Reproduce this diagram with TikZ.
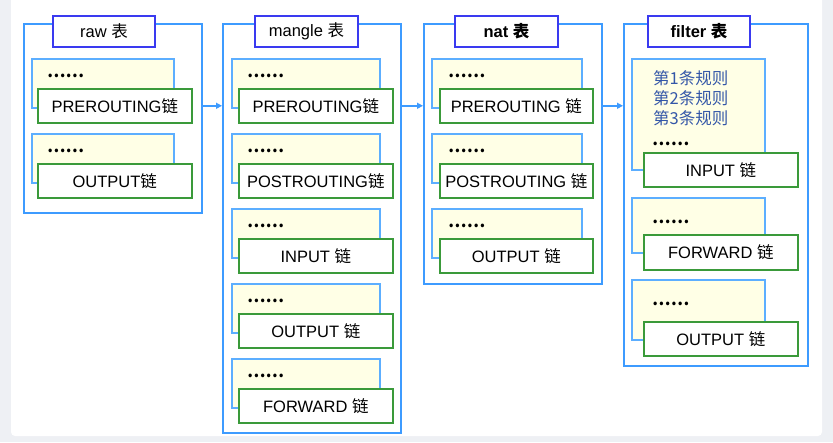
\documentclass[tikz,border=0pt]{standalone}
\usepackage{fontspec}
\setmainfont{Liberation Sans}
\newfontfamily\cjk{Noto Sans CJK SC}
\usetikzlibrary{arrows.meta}

\definecolor{tblblue}{HTML}{3D9BFF}
\definecolor{titleblue}{HTML}{3A3AF0}
\definecolor{ruleblue}{HTML}{5CAEFF}
\definecolor{ruleyellow}{HTML}{FFFFE6}
\definecolor{chaingreen}{HTML}{3A9A3A}
\definecolor{ruletext}{HTML}{3457A8}
\definecolor{pagegray}{HTML}{EEF0F4}

\newcommand{\zh}[1]{{\cjk #1}}

\begin{document}
\begin{tikzpicture}[
    x=1pt, y=-1pt,
    font=\fontsize{16.5}{20}\selectfont,
    >={Triangle[length=6pt,width=6pt]},
    tblbox/.style={
        draw=tblblue,
        line width=2pt,
        anchor=north west,
        inner sep=0pt
    },
    tbltitle/.style={
        draw=titleblue,
        fill=white,
        line width=2pt,
        anchor=north west,
        inner sep=0pt,
        minimum width=102pt,
        minimum height=31pt
    },
    rulebox/.style={
        draw=ruleblue,
        fill=ruleyellow,
        line width=1.7pt,
        anchor=north west,
        inner sep=0pt
    },
    chainbox/.style={
        draw=chaingreen,
        fill=white,
        line width=1.6pt,
        anchor=north west,
        inner sep=0pt,
        minimum height=34pt
    },
    ruledots/.style={font=\cjk\bfseries\fontsize{16.5}{20}\selectfont, anchor=west, inner sep=0pt},
    flow/.style={->, draw=tblblue, line width=1.4pt}
]

    % page
    \useasboundingbox (0,0) rectangle (833,442);
    \fill[pagegray] (0,0) rectangle (833,442);
    \fill[white, rounded corners=4pt] (11,-6) rectangle (822,436);

    % raw 表
    \node[tblbox, minimum width=178pt, minimum height=189pt] (raw) at (23,23) {};
    \node[tbltitle] (rawtitle) at (52,15) {raw \zh{表}};
    \foreach \i/\lbl in {0/PREROUTING, 1/OUTPUT} {
        \node[rulebox, minimum width=142pt, minimum height=49pt] (rawrule\i) at (31,58+75*\i) {};
        \node[ruledots] (rawdots\i) at (47,76+75*\i) {……};
        \node[chainbox, minimum width=154pt] (rawchain\i) at (37,88+75*\i) {\lbl\zh{链}};
    }

    % mangle 表
    \node[tblbox, minimum width=178pt, minimum height=409pt] (mangle) at (222,23) {};
    \node[tbltitle, minimum width=103pt] (mangletitle) at (254,15) {mangle \zh{表}};
    \foreach \i/\lbl in {0/PREROUTING\zh{链}, 1/POSTROUTING\zh{链}, 2/INPUT \zh{链},
                         3/OUTPUT \zh{链}, 4/FORWARD \zh{链}} {
        \node[rulebox, minimum width=148pt, minimum height=49pt] (manglerule\i) at (231,58+75*\i) {};
        \node[ruledots] (mangledots\i) at (247,76+75*\i) {……};
        \node[chainbox, minimum width=154pt] (manglechain\i) at (238,88+75*\i) {\lbl};
    }

    % nat 表
    \node[tblbox, minimum width=178pt, minimum height=260pt] (nat) at (423,23) {};
    \node[tbltitle, minimum width=103pt] (nattitle) at (454,15) {\bfseries nat \zh{表}};
    \foreach \i/\lbl in {0/PREROUTING, 1/POSTROUTING, 2/OUTPUT} {
        \node[rulebox, minimum width=150pt, minimum height=49pt] (natrule\i) at (431,58+75*\i) {};
        \node[ruledots] (natdots\i) at (448,76+75*\i) {……};
        \node[chainbox, minimum width=153pt] (natchain\i) at (439,88+75*\i) {\lbl\ \zh{链}};
    }

    % filter 表
    \node[tblbox, minimum width=184pt, minimum height=342pt] (filter) at (623,23) {};
    \node[tbltitle] (filtertitle) at (647,15) {\bfseries filter \zh{表}};
    \node[rulebox, minimum width=133pt, minimum height=111pt] (filterrule0) at (631,58) {};
    \node[rulebox, minimum width=133pt, minimum height=55pt] (filterrule1) at (631,197) {};
    \node[rulebox, minimum width=133pt, minimum height=60pt] (filterrule2) at (631,279) {};
    \node[anchor=north west, inner sep=0pt, align=left, text=ruletext,
          font=\cjk\fontsize{16.5}{20}\selectfont] (filterrules) at (653,70)
        {第1条规则\\第2条规则\\第3条规则};
    \node[ruledots] (filterdots0) at (652,144) {……};
    \node[ruledots] (filterdots1) at (652,222) {……};
    \node[ruledots] (filterdots2) at (652,304) {……};
    \node[chainbox, minimum width=154pt] (filterchain0) at (643,152) {INPUT \zh{链}};
    \node[chainbox, minimum width=154pt, minimum height=35pt] (filterchain1) at (643,234) {FORWARD \zh{链}};
    \node[chainbox, minimum width=154pt] (filterchain2) at (643,321) {OUTPUT \zh{链}};

    % flow between tables
    \draw[flow] (raw.east |- rawchain0) -- (mangle.west |- rawchain0);
    \draw[flow] (mangle.east |- manglechain0) -- (nat.west |- manglechain0);
    \draw[flow] (nat.east |- natchain0) -- (filter.west |- natchain0);

\end{tikzpicture}
\end{document}
